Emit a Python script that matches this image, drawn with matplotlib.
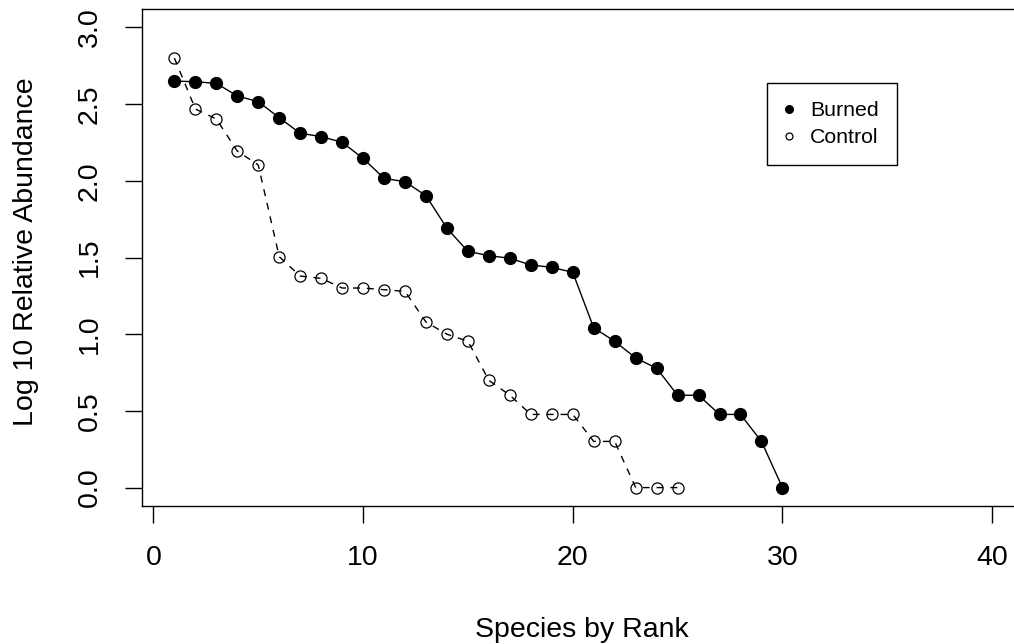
import matplotlib
matplotlib.use("Agg")
import matplotlib.pyplot as plt
from matplotlib.lines import Line2D

plt.rcParams['font.family'] = ['Liberation Sans', 'DejaVu Sans']

# Data
burned_rank = list(range(1, 31))
burned_vals = [2.65, 2.646, 2.635, 2.553, 2.516, 2.411, 2.31, 2.288, 2.251, 2.146,
               2.016, 1.994, 1.903, 1.69, 1.54, 1.512, 1.495, 1.451, 1.436, 1.403,
               1.041, 0.954, 0.845, 0.778, 0.602, 0.602, 0.477, 0.477, 0.301, 0.0]
control_rank = list(range(1, 26))
control_vals = [2.80, 2.468, 2.403, 2.194, 2.103, 1.505, 1.379, 1.364, 1.301, 1.301,
                1.29, 1.279, 1.079, 1.0, 0.954, 0.699, 0.602, 0.477, 0.477, 0.477,
                0.301, 0.301, 0.0, 0.0, 0.0]
x_ticks = [0, 10, 20, 30, 40]
y_ticks = [0.0, 0.5, 1.0, 1.5, 2.0, 2.5, 3.0]
x_label = "Species by Rank"
y_label = "Log 10 Relative Abundance"
legend_labels = ["Burned", "Control"]

W, H = 1014, 644
fig = plt.figure(figsize=(W / 100, H / 100), dpi=100)
left, right, top, bottom = 141.7, 1024.8, 9.0, 506.0
ax = fig.add_axes([left / W, 1 - bottom / H, (right - left) / W, (bottom - top) / H])

ax.plot(burned_rank, burned_vals, color='black', lw=1.0, marker='o', ms=8.5,
        mfc='black', mec='black', zorder=3)
ax.plot(control_rank, control_vals, color='black', lw=1.0, ls=(0, (5, 5)), marker='o',
        ms=8.0, mfc='none', mec='black', mew=0.9, zorder=3)

ax.set_xlim(-0.56, 41.56)
ax.set_ylim(-0.12, 3.12)
ax.set_xticks(x_ticks)
ax.set_xticklabels([str(v) for v in x_ticks])
ax.set_yticks(y_ticks)
ax.set_yticklabels([f"{v:.1f}" for v in y_ticks], rotation=90, va='center')

ax.tick_params(axis='both', direction='out', length=12, width=1.0, labelsize=20.5,
               colors='black')
ax.tick_params(axis='x', pad=16)
ax.tick_params(axis='y', pad=16)
for sp in ax.spines.values():
    sp.set_linewidth(1.0)
    sp.set_color('black')

fig.text(581.7 / W, 1 - 636.7 / H, x_label, ha='center', va='baseline', fontsize=20.5)
fig.text(33.3 / W, 1 - 251.5 / H, y_label, ha='center', va='baseline', rotation=90,
         rotation_mode='anchor', fontsize=20.5)

handles = [Line2D([], [], ls='none', marker='o', ms=5.5, mfc='black', mec='black'),
           Line2D([], [], ls='none', marker='o', ms=5.0, mfc='none', mec='black', mew=0.9)]
leg = ax.legend(handles, legend_labels, loc='upper left',
                bbox_to_anchor=(767 / W, 1 - 83.3 / H), bbox_transform=fig.transFigure,
                borderaxespad=0, fontsize=15.3, frameon=True, fancybox=False,
                edgecolor='black', framealpha=1, handlelength=0.39, handletextpad=0.8,
                labelspacing=0.39, borderpad=0.84)
leg.get_frame().set_linewidth(1.0)

fig.savefig("out.png", dpi=100)
